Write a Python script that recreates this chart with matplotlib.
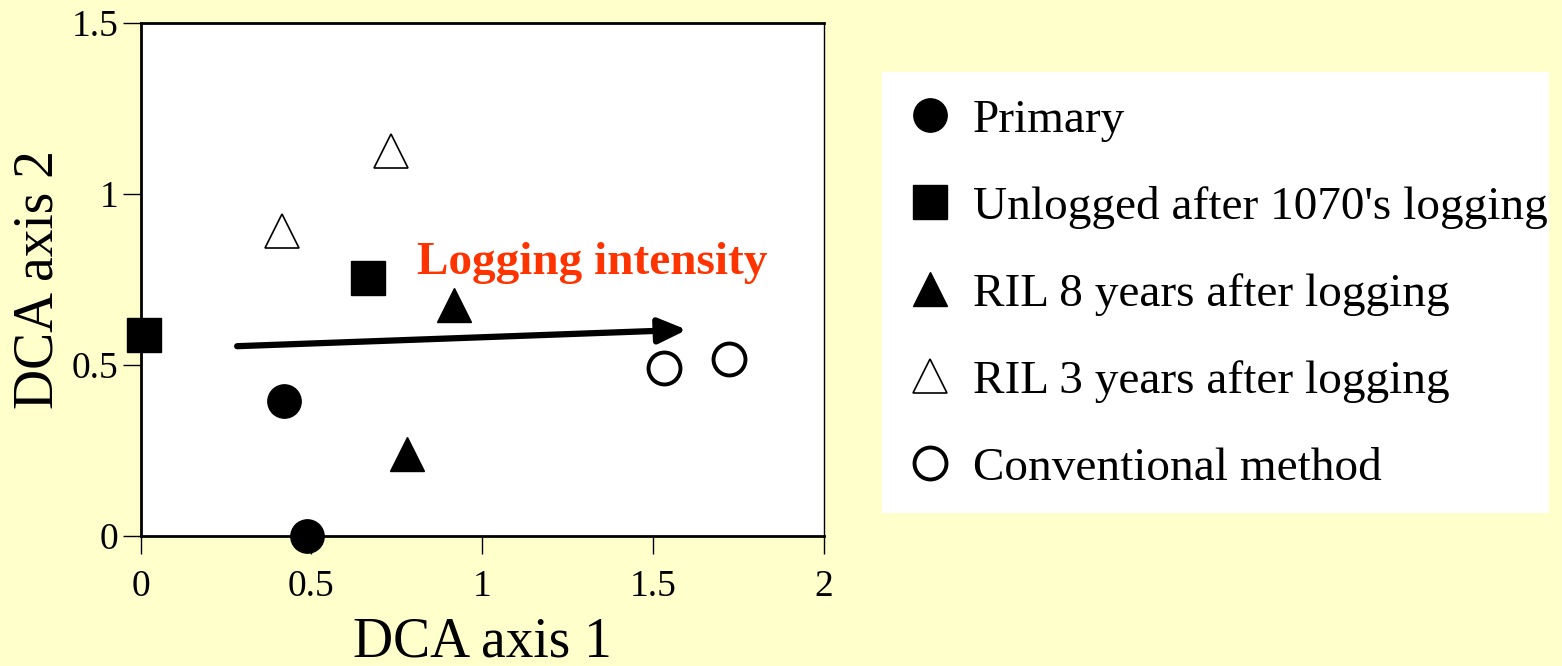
import matplotlib
matplotlib.use("Agg")
import matplotlib.pyplot as plt
from matplotlib.patches import Rectangle

plt.rcParams['font.family'] = ['Liberation Serif', 'DejaVu Serif']

# Data
primary_x = [0.419, 0.487]
primary_y = [0.394, 0.0]
unlogged_x = [0.010, 0.667]
unlogged_y = [0.587, 0.755]
ril8_x = [0.917, 0.780]
ril8_y = [0.674, 0.239]
ril3_x = [0.733, 0.413]
ril3_y = [1.126, 0.892]
conv_x = [1.534, 1.724]
conv_y = [0.492, 0.518]
arrow_start = (0.283, 0.555)
arrow_end = (1.600, 0.603)
xticks = [0, 0.5, 1, 1.5, 2]
xticklabels = ['0', '0.5', '1', '1.5', '2']
yticks = [0, 0.5, 1, 1.5]
yticklabels = ['0', '0.5', '1', '1.5']
labels = ['Primary', "Unlogged after 1070's logging", 'RIL 8 years after logging',
          'RIL 3 years after logging', 'Conventional method']

W, H = 1562, 666
bg = '#FFFFCC'
fig = plt.figure(figsize=(W / 100, H / 100), dpi=100, facecolor=bg)

ax = fig.add_axes([140.5 / W, 1 - 536 / H, (823.5 - 140.5) / W, (536 - 23) / H])
ax.set_facecolor('white')
ax.set_xlim(0, 2)
ax.set_ylim(0, 1.5)

ms = 24
h1, = ax.plot(primary_x, primary_y, 'o', ms=ms, color='black', clip_on=False, zorder=5)
h2, = ax.plot(unlogged_x, unlogged_y, 's', ms=ms, color='black', clip_on=False, zorder=5)
h3, = ax.plot(ril8_x, ril8_y, '^', ms=ms, color='black', clip_on=False, zorder=5)
h4, = ax.plot(ril3_x, ril3_y, '^', ms=ms, mfc='white', mec='black', mew=1.2, clip_on=False, zorder=5)
h5, = ax.plot(conv_x, conv_y, 'o', ms=ms - 1, mfc='white', mec='black', mew=2.8, clip_on=False, zorder=5)

ax.annotate('', xy=arrow_end, xytext=arrow_start,
            arrowprops=dict(arrowstyle='-|>,head_length=0.85,head_width=0.38', lw=4.5, color='black',
                            shrinkA=0, shrinkB=0, mutation_scale=20))
ax.text(0.810, 0.766, 'Logging intensity', color='#FF3300', fontsize=34, fontweight='bold',
        ha='left', va='baseline')

for side in ['left', 'bottom', 'top']:
    ax.spines[side].set_linewidth(2.0)
ax.spines['right'].set_linewidth(1.0)

ax.set_xticks(xticks)
ax.set_xticklabels(xticklabels)
ax.set_yticks(yticks)
ax.set_yticklabels(yticklabels)
ax.tick_params(axis='both', direction='out', length=13, width=1.0, labelsize=27)
ax.tick_params(axis='x', pad=11)
ax.tick_params(axis='y', pad=3)

ax.set_xlabel('DCA axis 1', fontsize=40, labelpad=9)
ax.set_ylabel('DCA axis 2', fontsize=40, labelpad=5)

# Legend background
fig.patches.append(Rectangle((882 / W, 1 - 513 / H), 667 / W, 441 / H,
                             transform=fig.transFigure, facecolor='white', edgecolor='none', zorder=0))
leg = fig.legend([h1, h2, h3, h4, h5], labels, loc='upper left',
                 bbox_to_anchor=(883 / W, 1 - 75 / H), frameon=False, fontsize=34,
                 handlelength=1.0, handletextpad=0.4, labelspacing=0.93, borderpad=0,
                 markerscale=1.0, numpoints=1)

fig.savefig('out.png', dpi=100, facecolor=bg)
